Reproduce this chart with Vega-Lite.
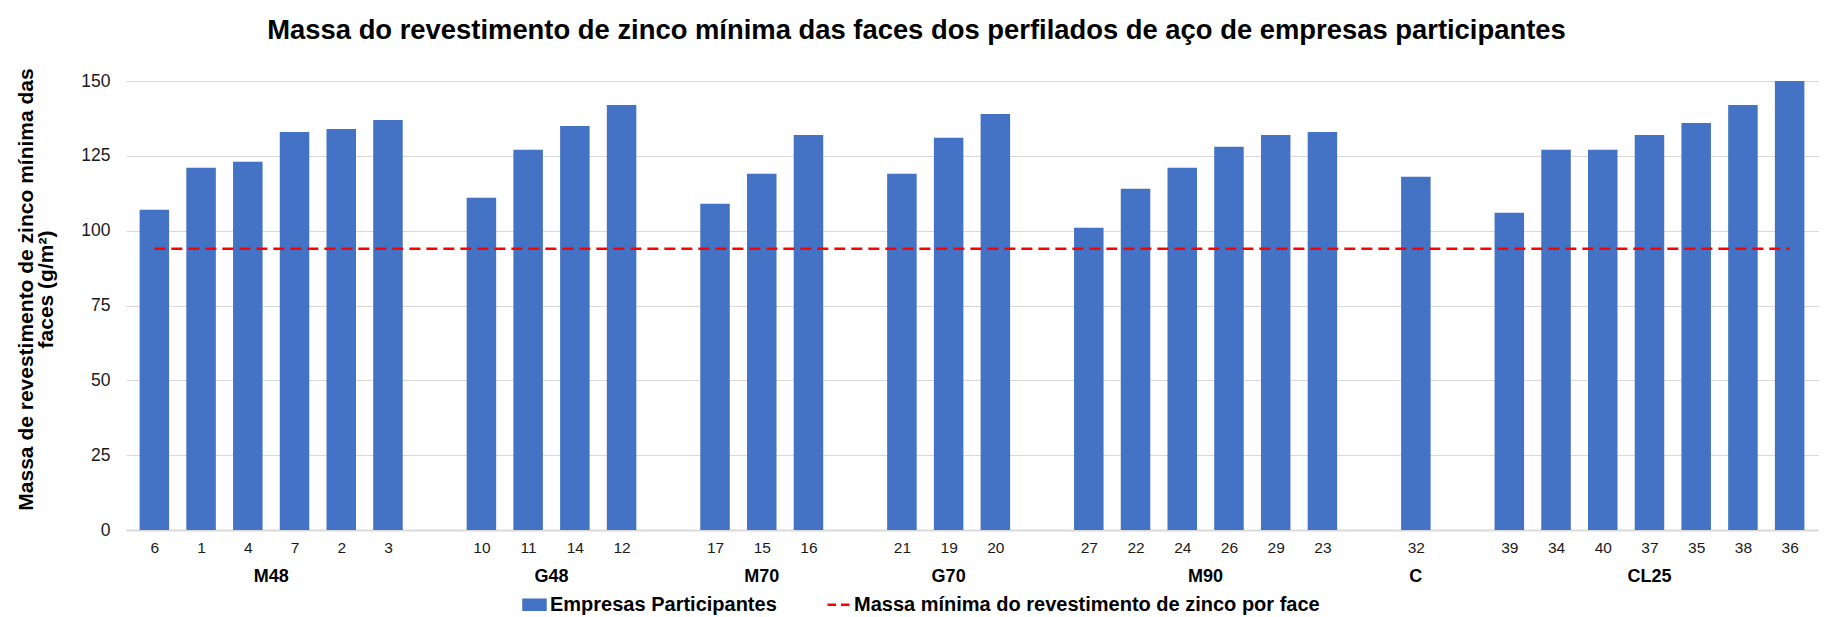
{
  "$schema": "https://vega.github.io/schema/vega-lite/v6.json",
  "width": 1692,
  "height": 449,
  "autosize": {"type": "none"},
  "padding": {"left": 126, "top": 81, "right": 7, "bottom": 87},
  "background": "white",
  "config": {
    "font": "Liberation Sans",
    "view": {"stroke": null}
  },
  "title": {
    "text": "Massa do revestimento de zinco mínima das faces dos perfilados de aço de empresas participantes",
    "font": "Liberation Sans",
    "fontSize": 27.4,
    "fontWeight": "bold",
    "color": "#000000",
    "anchor": "middle",
    "frame": "bounds",
    "baseline": "alphabetic",
    "offset": 1
  },
  "datasets": {
    "empresas": [
      {"pos": 0, "empresa": "6", "grupo": "M48", "massa": 107},
      {"pos": 1, "empresa": "1", "grupo": "M48", "massa": 121},
      {"pos": 2, "empresa": "4", "grupo": "M48", "massa": 123},
      {"pos": 3, "empresa": "7", "grupo": "M48", "massa": 133},
      {"pos": 4, "empresa": "2", "grupo": "M48", "massa": 134},
      {"pos": 5, "empresa": "3", "grupo": "M48", "massa": 137},
      {"pos": 7, "empresa": "10", "grupo": "G48", "massa": 111},
      {"pos": 8, "empresa": "11", "grupo": "G48", "massa": 127},
      {"pos": 9, "empresa": "14", "grupo": "G48", "massa": 135},
      {"pos": 10, "empresa": "12", "grupo": "G48", "massa": 142},
      {"pos": 12, "empresa": "17", "grupo": "M70", "massa": 109},
      {"pos": 13, "empresa": "15", "grupo": "M70", "massa": 119},
      {"pos": 14, "empresa": "16", "grupo": "M70", "massa": 132},
      {"pos": 16, "empresa": "21", "grupo": "G70", "massa": 119},
      {"pos": 17, "empresa": "19", "grupo": "G70", "massa": 131},
      {"pos": 18, "empresa": "20", "grupo": "G70", "massa": 139},
      {"pos": 20, "empresa": "27", "grupo": "M90", "massa": 101},
      {"pos": 21, "empresa": "22", "grupo": "M90", "massa": 114},
      {"pos": 22, "empresa": "24", "grupo": "M90", "massa": 121},
      {"pos": 23, "empresa": "26", "grupo": "M90", "massa": 128},
      {"pos": 24, "empresa": "29", "grupo": "M90", "massa": 132},
      {"pos": 25, "empresa": "23", "grupo": "M90", "massa": 133},
      {"pos": 27, "empresa": "32", "grupo": "C", "massa": 118},
      {"pos": 29, "empresa": "39", "grupo": "CL25", "massa": 106},
      {"pos": 30, "empresa": "34", "grupo": "CL25", "massa": 127},
      {"pos": 31, "empresa": "40", "grupo": "CL25", "massa": 127},
      {"pos": 32, "empresa": "37", "grupo": "CL25", "massa": 132},
      {"pos": 33, "empresa": "35", "grupo": "CL25", "massa": 136},
      {"pos": 34, "empresa": "38", "grupo": "CL25", "massa": 142},
      {"pos": 35, "empresa": "36", "grupo": "CL25", "massa": 150}
    ],
    "limite": [
      {"massa_min": 94, "inicio": 0, "fim": 35}
    ]
  },
  "layer": [
    {
      "data": {"name": "empresas"},
      "mark": {"type": "bar", "width": 29.5, "color": "#4472C4"},
      "encoding": {
        "x": {
          "field": "pos",
          "type": "quantitative",
          "scale": {"domain": [-0.5, 35.5], "nice": false, "zero": false},
          "axis": {
            "title": null,
            "grid": false,
            "ticks": false,
            "tickSize": 0,
            "tickCount": 36,
            "labelOverlap": false,
            "labelFlush": false,
            "labelFont": "Liberation Sans",
            "labelFontSize": 15.5,
            "labelColor": "#1a1a1a",
            "labelPadding": 10,
            "domainColor": "#d9d9d9",
            "domainWidth": 2,
            "labelExpr": "indexof(pluck(data('empresas'),'pos'), datum.value) < 0 ? '' : pluck(data('empresas'),'empresa')[indexof(pluck(data('empresas'),'pos'), datum.value)]"
          }
        },
        "y": {
          "field": "massa",
          "type": "quantitative",
          "scale": {"domain": [0, 150], "nice": false},
          "axis": {
            "values": [0, 25, 50, 75, 100, 125, 150],
            "title": ["Massa de revestimento de zinco mínima das", "faces (g/m²)"],
            "titleFont": "Liberation Sans",
            "titleFontSize": 21,
            "titleFontWeight": "bold",
            "titleColor": "#000000",
            "titleLineHeight": 20,
            "titleX": -90,
            "titleY": 208,
            "domain": false,
            "ticks": false,
            "tickSize": 0,
            "grid": true,
            "gridColor": "#d9d9d9",
            "gridWidth": 1,
            "labelFont": "Liberation Sans",
            "labelFontSize": 17.5,
            "labelColor": "#1a1a1a",
            "labelPadding": 16
          }
        },
        "color": {
          "datum": "Empresas Participantes",
          "scale": {
            "domain": ["Empresas Participantes", "Massa mínima do revestimento de zinco por face"],
            "range": ["#4472C4", "#FF0000"]
          },
          "legend": {
            "title": null,
            "orient": "none",
            "direction": "horizontal",
            "legendX": 396,
            "legendY": 511,
            "padding": 0,
            "columnPadding": 45,
            "labelOffset": 3,
            "labelLimit": 800,
            "labelFont": "Liberation Sans",
            "labelFontSize": 20,
            "labelFontWeight": "bold",
            "labelColor": "#000000",
            "symbolSize": 484,
            "encode": {
              "symbols": {
                "update": {
                  "shape": {"signal": "datum.value === 'Empresas Participantes' ? 'M-1,-0.45H1V0.45H-1Z' : 'M-1,0H-0.22M0.22,0H1'"},
                  "fill": {"signal": "datum.value === 'Empresas Participantes' ? '#4472C4' : 'transparent'"},
                  "stroke": {"signal": "datum.value === 'Empresas Participantes' ? 'transparent' : '#FF0000'"},
                  "strokeWidth": {"value": 2.5},
                  "strokeDash": {"value": []},
                  "opacity": {"value": 1},
                  "size": {"value": 484}
                }
              }
            }
          }
        }
      }
    },
    {
      "data": {"name": "empresas"},
      "transform": [
        {"aggregate": [{"op": "mean", "field": "pos", "as": "centro"}], "groupby": ["grupo"]}
      ],
      "mark": {
        "type": "text",
        "font": "Liberation Sans",
        "fontSize": 18,
        "fontWeight": "bold",
        "color": "#000000",
        "baseline": "alphabetic",
        "align": "center",
        "dy": 52
      },
      "encoding": {
        "x": {"field": "centro", "type": "quantitative"},
        "y": {"datum": 0, "type": "quantitative"},
        "text": {"field": "grupo"}
      }
    },
    {
      "data": {"name": "limite"},
      "mark": {"type": "rule", "strokeWidth": 2.5, "strokeDash": [11, 6]},
      "encoding": {
        "x": {"field": "inicio", "type": "quantitative"},
        "x2": {"field": "fim"},
        "y": {"field": "massa_min", "type": "quantitative"},
        "color": {"datum": "Massa mínima do revestimento de zinco por face"}
      }
    }
  ]
}
